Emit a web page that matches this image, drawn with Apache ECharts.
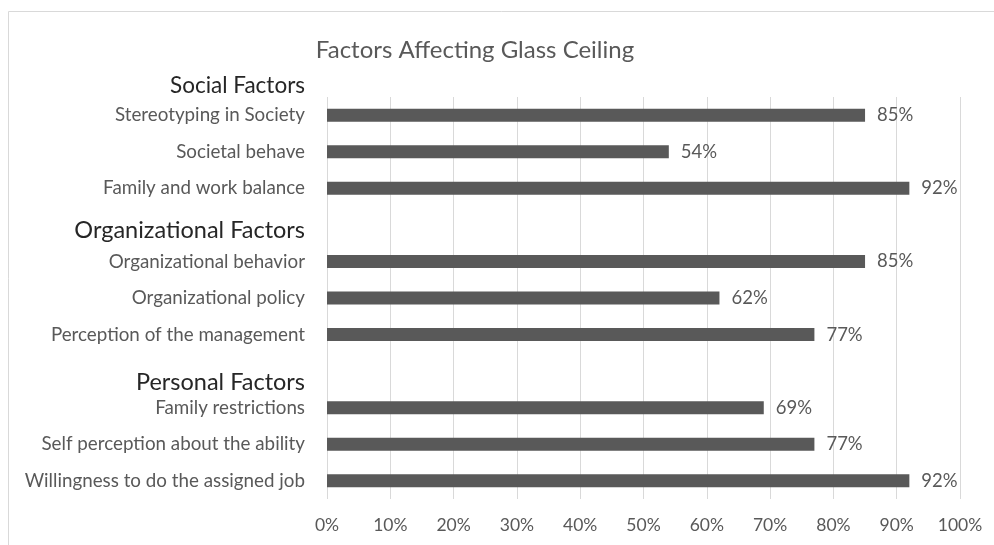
<!DOCTYPE html>
<html>
<head>
<meta charset="utf-8">
<script src="https://cdn.jsdelivr.net/npm/echarts@6/dist/echarts.min.js"></script>
<style>
  html, body { margin: 0; padding: 0; background: #fff; }
  #chart { width: 994px; height: 545px; }
</style>
</head>
<body>
<div id="chart"></div>
<script>
// horizontal bars, group headers sit on empty category slots
const categories = [
  'Stereotyping in Society',
  'Societal behave',
  'Family and work balance',
  'Organizational Factors',
  'Organizational behavior',
  'Organizational policy',
  'Perception of the management',
  'Personal Factors',
  'Family restrictions',
  'Self perception about the ability',
  'Willingness to do the assigned job'
]
const values = [85, 54, 92, null, 85, 62, 77, null, 69, 77, 92]
const headers = ['Organizational Factors', 'Personal Factors']
const topHeader = 'Social Factors'
const xTicks = [0, 10, 20, 30, 40, 50, 60, 70, 80, 90, 100]

const font = 'Lato, "Open Sans", sans-serif'
const chart = echarts.init(document.getElementById('chart'))

const option = {
  animation: false,
  textStyle: { fontFamily: font },
  title: {
    text: 'Factors Affecting Glass Ceiling',
    left: 470,
    textAlign: 'center',
    top: 33,
    textStyle: { fontSize: 24, fontWeight: 'normal', color: '#595959', fontFamily: font }
  },
  graphic: [
    {
      type: 'rect',
      shape: { x: 8.5, y: 11.5, width: 1200, height: 800 },
      style: { fill: 'none', stroke: '#d9d9d9', lineWidth: 1 }
    }
  ],
  grid: { left: 327, right: 34, top: 97, bottom: 46 },
  xAxis: {
    type: 'value',
    min: 0,
    max: xTicks[xTicks.length - 1],
    interval: 10,
    axisLine: { show: false },
    axisTick: { show: false },
    splitLine: { show: true, lineStyle: { color: '#d9d9d9' } },
    axisLabel: {
      formatter: '{value}%',
      color: '#595959',
      fontSize: 17.5,
      margin: 17
    }
  },
  yAxis: {
    type: 'category',
    inverse: true,
    data: categories,
    name: topHeader,
    nameLocation: 'start',
    nameGap: 11,
    nameTextStyle: {
      align: 'right',
      verticalAlign: 'middle',
      padding: [0, 22, 0, 0],
      fontSize: 22.5,
      color: '#262626',
      fontFamily: font
    },
    axisLine: { show: false },
    axisTick: { show: false },
    axisLabel: {
      margin: 22,
      color: '#595959',
      fontSize: 18.8,
      formatter: (v) => {
        if (v === headers[0]) return '{h1|' + v + '}'
        if (v === headers[1]) return '{h2|' + v + '}'
        return v
      },
      rich: {
        h1: { fontSize: 23.5, color: '#262626', padding: [12, 0, 0, 0] },
        h2: { fontSize: 23.5, color: '#262626', padding: [22, 0, 0, 0] }
      }
    }
  },
  series: [
    {
      type: 'bar',
      data: values,
      barWidth: 13,
      itemStyle: { color: '#595959' },
      label: {
        show: true,
        position: 'right',
        distance: 12,
        formatter: '{c}%',
        color: '#595959',
        fontSize: 18.5
      }
    }
  ]
}

chart.setOption(option)
</script>
</body>
</html>
